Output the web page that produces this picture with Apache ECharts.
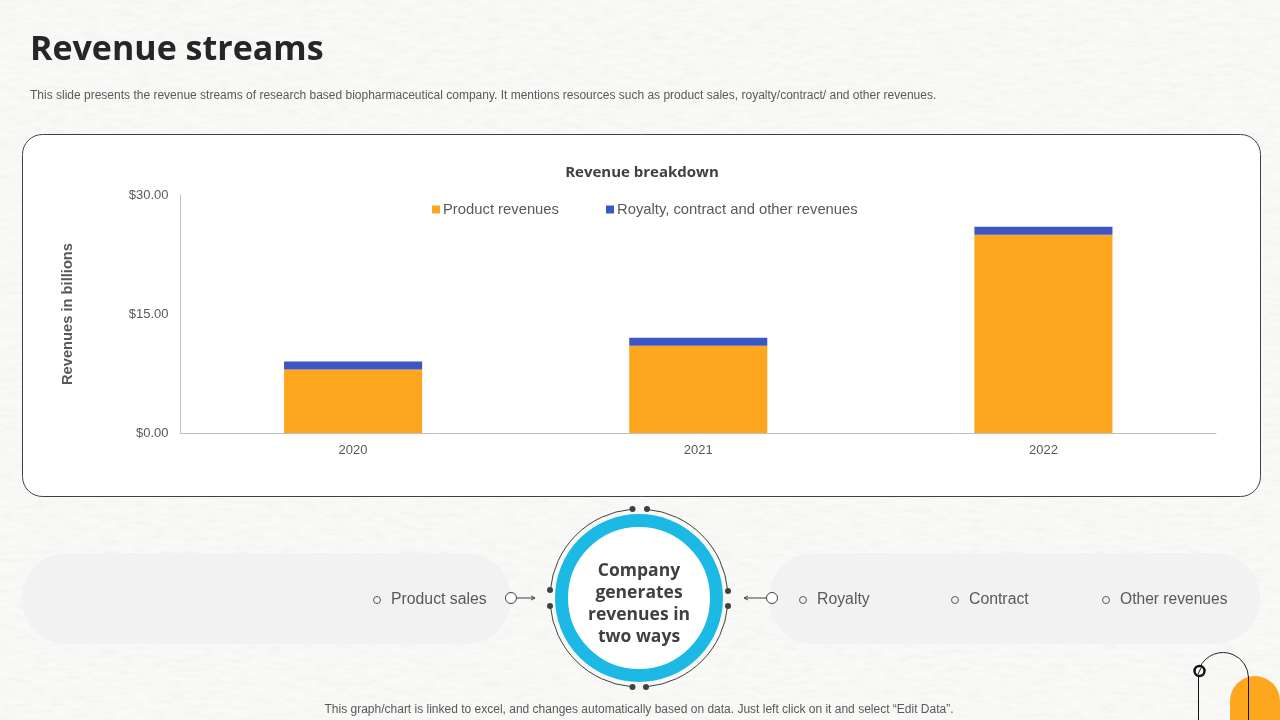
<!DOCTYPE html>
<html>
<head>
<meta charset="utf-8">
<script src="https://cdn.jsdelivr.net/npm/echarts@6/dist/echarts.min.js"></script>
<style>
  html, body { margin: 0; padding: 0; background: #f9f9f8; }
  #paper { position: absolute; left: 0; top: 0; }
  #chart { position: absolute; left: 0; top: 0; width: 1280px; height: 720px; }
</style>
</head>
<body>
<svg id="paper" width="1280" height="720">
  <filter id="grain">
    <feTurbulence type="fractalNoise" baseFrequency="0.06 0.22" numOctaves="3" seed="7"/>
    <feColorMatrix values="0 0 0 0 0.88  0 0 0 0 0.88  0 0 0 0 0.87  1.6 0 0 0 -0.65"/>
  </filter>
  <rect width="1280" height="720" filter="url(#grain)"/>
</svg>
<div id="chart"></div>
<script>
const years = ['2020', '2021', '2022'];
const productRevenues = [8, 11, 25];
const otherRevenues = [1, 1, 1];
const yTicks = { min: 0, max: 30, interval: 15 };
const leftItems = ['Product sales'];
const rightItems = ['Royalty', 'Contract', 'Other revenues'];

const sans = '"Liberation Sans", Arial, sans-serif';
const heading = '"Open Sans", "Noto Sans", sans-serif';
const ink = '#404040';
const grey = '#595959';

let myChart = echarts.init(document.getElementById('chart'), null, { backgroundColor: 'transparent' });

function label(x, y, text, size, opts) {
    return {
        type: 'text',
        x: x,
        y: y,
        z: 5,
        style: Object.assign({
            text: text,
            font: size + 'px ' + sans,
            fill: grey,
            textVerticalAlign: 'middle'
        }, opts || {})
    };
}

function dot(x, y, r) {
    return { type: 'circle', z: 5, shape: { cx: x, cy: y, r: r }, style: { fill: ink } };
}

function ringArc(from, to) {
    return {
        type: 'arc',
        z: 4,
        shape: { cx: 639, cy: 598, r: 89, startAngle: from * Math.PI / 180, endAngle: to * Math.PI / 180, clockwise: true },
        style: { fill: null, stroke: ink, lineWidth: 1 }
    };
}

function line(x1, y1, x2, y2, width, color) {
    return {
        type: 'line',
        z: 5,
        shape: { x1: x1, y1: y1, x2: x2, y2: y2 },
        style: { stroke: color || ink, lineWidth: width || 1 }
    };
}

function bullet(x, y) {
    return { type: 'circle', z: 5, shape: { cx: x, cy: y, r: 3.5 }, style: { fill: null, stroke: grey, lineWidth: 1 } };
}

function hollow(x, y) {
    return { type: 'circle', z: 5, shape: { cx: x, cy: y, r: 5.5 }, style: { fill: '#fff', stroke: ink, lineWidth: 1 } };
}

let decorations = [
    // slide header
    label(30, 50, 'Revenue streams', 34, { font: 'bold 34px ' + heading, fill: '#262626' }),
    label(30, 96, 'This slide presents the revenue streams of research based biopharmaceutical company. It mentions resources such as product sales, royalty/contract/ and other revenues.', 12),
    // chart card
    {
        type: 'rect',
        z: -1,
        shape: { x: 22.5, y: 134.5, width: 1238, height: 362, r: 20 },
        style: { fill: '#fff', stroke: ink, lineWidth: 1 }
    },
    // pills
    { type: 'rect', z: 1, shape: { x: 22, y: 553, width: 489, height: 91, r: 45 }, style: { fill: '#f2f2f2' } },
    { type: 'rect', z: 1, shape: { x: 769, y: 553, width: 491, height: 91, r: 45 }, style: { fill: '#f2f2f2' } },
    bullet(377, 600),
    label(391, 600, leftItems[0], 15.8),
    bullet(803, 600),
    label(817, 600, rightItems[0], 15.8),
    bullet(955, 600),
    label(969, 600, rightItems[1], 15.8),
    bullet(1106, 600),
    label(1120, 600, rightItems[2], 15.6),
    // connectors
    line(516, 598, 535, 598),
    line(531, 596, 535, 598),
    line(531, 600, 535, 598),
    hollow(511, 598),
    line(744, 598, 767, 598),
    line(748, 596, 744, 598),
    line(748, 600, 744, 598),
    hollow(772, 598),
    // centre ring
    { type: 'circle', z: 3, shape: { cx: 639, cy: 598, r: 77.5 }, style: { fill: '#fff', stroke: '#1cb9e4', lineWidth: 13 } },
    ringArc(5, 85),
    ringArc(95, 175),
    ringArc(185, 265),
    ringArc(275, 355),
    dot(632.5, 509, 3),
    dot(647, 509, 3),
    dot(632.5, 687, 3),
    dot(646, 687, 3),
    dot(550, 590, 3),
    dot(550, 606, 3),
    dot(728, 591, 3),
    dot(728, 606, 3),
    {
        type: 'text',
        x: 639,
        y: 604,
        z: 6,
        style: {
            text: 'Company\ngenerates\nrevenues in\ntwo ways',
            font: 'bold 17.5px ' + heading,
            fill: ink,
            textAlign: 'center',
            textVerticalAlign: 'middle',
            lineHeight: 22.3
        }
    },
    // corner decoration
    { type: 'rect', z: 1, shape: { x: 1230, y: 676, width: 50, height: 70, r: [25, 25, 0, 0] }, style: { fill: '#ffa61f' } },
    line(1198.5, 676, 1198.5, 720, 1, '#111'),
    line(1248.5, 676, 1248.5, 720, 1, '#111'),
    {
        type: 'arc',
        z: 4,
        shape: { cx: 1223, cy: 678, r: 25.5, startAngle: Math.PI * 1.13, endAngle: Math.PI * 2 },
        style: { fill: null, stroke: '#222', lineWidth: 1 }
    },
    { type: 'circle', z: 5, shape: { cx: 1199.5, cy: 671, r: 5 }, style: { fill: '#fff', stroke: '#111', lineWidth: 2.5 } },
    line(1198, 674, 1201, 668, 1, '#111'),
    // footnote
    label(639, 710, 'This graph/chart is linked to excel, and changes automatically based on data. Just left click on it and select \u201cEdit Data\u201d.', 12, { textAlign: 'center' })
];

let option = {
    animation: false,
    title: {
        text: 'Revenue breakdown',
        left: 637,
        top: 160,
        textAlign: 'center',
        textStyle: { fontFamily: heading, fontSize: 15, fontWeight: 'bold', color: ink }
    },
    legend: {
        left: 427,
        top: 197,
        itemWidth: 8,
        itemHeight: 8,
        itemGap: 47,
        icon: 'rect',
        textStyle: { fontFamily: sans, fontSize: 14.8, color: grey, padding: [0, 0, 0, -2] },
        data: ['Product revenues', 'Royalty, contract and other revenues']
    },
    grid: { left: 180.5, right: 64, top: 195, bottom: 287 },
    xAxis: {
        type: 'category',
        data: years,
        axisTick: { show: false },
        axisLine: { lineStyle: { color: '#bfbfbf', width: 1 } },
        axisLabel: { fontFamily: sans, fontSize: 13, color: grey, margin: 11 }
    },
    yAxis: {
        type: 'value',
        min: yTicks.min,
        max: yTicks.max,
        interval: yTicks.interval,
        name: 'Revenues in billions',
        nameLocation: 'middle',
        nameGap: 105,
        nameTextStyle: { fontFamily: sans, fontSize: 14.7, fontWeight: 'bold', color: grey },
        axisLine: { show: true, lineStyle: { color: '#bfbfbf', width: 1 } },
        axisTick: { show: false },
        splitLine: { show: false },
        axisLabel: {
            fontFamily: sans,
            fontSize: 13,
            color: grey,
            margin: 12,
            formatter: function (v) { return '$' + v.toFixed(2); }
        }
    },
    series: [
        {
            name: 'Product revenues',
            type: 'bar',
            stack: 'revenue',
            barWidth: '40%',
            itemStyle: { color: '#ffa61f' },
            data: productRevenues
        },
        {
            name: 'Royalty, contract and other revenues',
            type: 'bar',
            stack: 'revenue',
            barWidth: '40%',
            itemStyle: { color: '#3c56c4' },
            data: otherRevenues
        }
    ],
    graphic: { elements: decorations }
};

myChart.setOption(option);
</script>
</body>
</html>
